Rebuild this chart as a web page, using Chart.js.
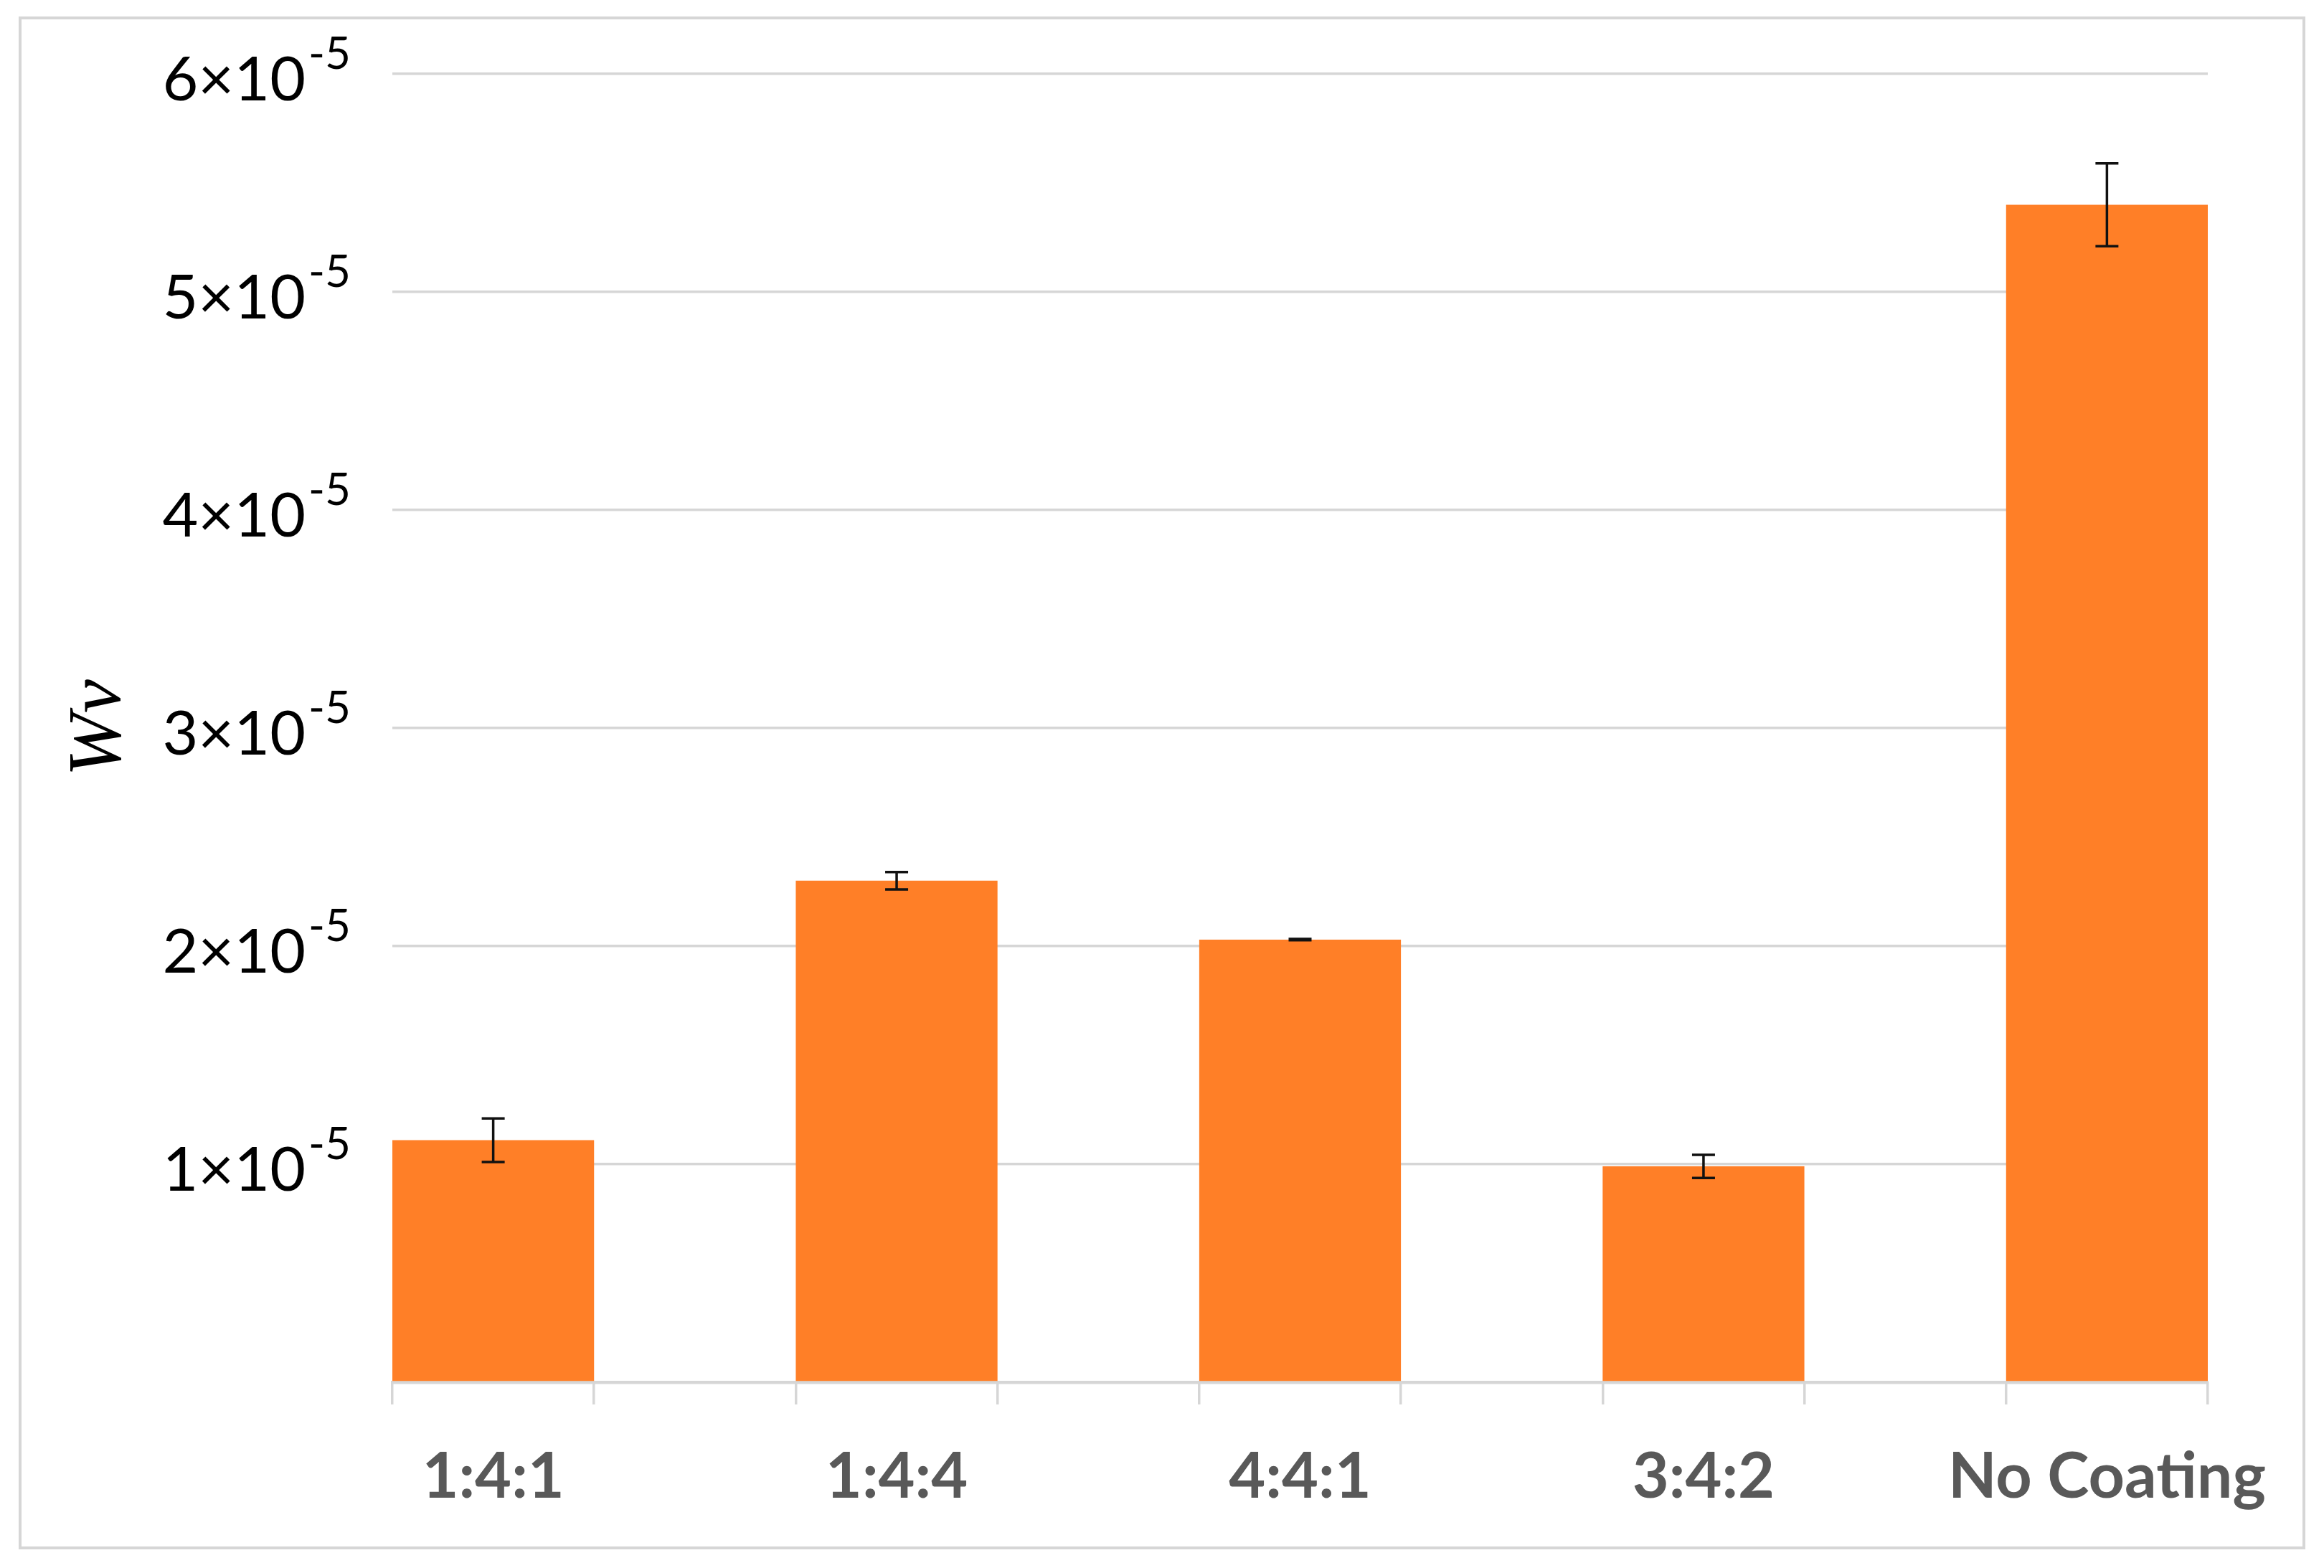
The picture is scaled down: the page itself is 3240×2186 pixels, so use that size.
<!DOCTYPE html>
<html>
<head>
<meta charset="utf-8">
<script src="https://cdn.jsdelivr.net/npm/chart.js@4.4.0/dist/chart.umd.min.js"></script>
<style>
  html, body { margin: 0; padding: 0; background: #ffffff; }
  canvas { display: block; }
</style>
</head>
<body>
<canvas id="chart" width="3240" height="2186" style="width:3240px;height:2186px"></canvas>
<script>
// ---------------- data ----------------
const categories = ['1:4:1', '1:4:4', '4:4:1', '3:4:2', 'No Coating'];
const wvValues   = [1.11e-5, 2.30e-5, 2.03e-5, 0.99e-5, 5.40e-5];
const wvErrors   = [0.10e-5, 0.04e-5, 0.003e-5, 0.053e-5, 0.19e-5];
const yTickValues    = [1e-5, 2e-5, 3e-5, 4e-5, 5e-5, 6e-5];
const yTickMantissas = ['1', '2', '3', '4', '5', '6'];
const yTickExponent  = '-5';
const yAxisTitle = 'Wv';

// ---------------- style ----------------
const BAR_COLOR = '#FF7F27';
const GRID_COLOR = '#D6D6D6';
const LABEL_GRAY = '#595959';
const BAR_FRACTION = 0.5;           // bar width as fraction of category spacing
const HALF = BAR_FRACTION / 2;
const X_MIN = -HALF, X_MAX = categories.length - 1 + HALF;

const errorBarPlugin = {
  id: 'errorBars',
  afterDatasetsDraw(chart) {
    const ctx = chart.ctx;
    const y = chart.scales.y;
    const meta = chart.getDatasetMeta(0);
    ctx.save();
    ctx.strokeStyle = '#111111';
    ctx.lineWidth = 3.5;
    meta.data.forEach((bar, i) => {
      const x = bar.x;
      const top = y.getPixelForValue(wvValues[i] + wvErrors[i]);
      const bot = y.getPixelForValue(wvValues[i] - wvErrors[i]);
      const cap = 16;
      ctx.beginPath();
      ctx.moveTo(x, top); ctx.lineTo(x, bot);
      ctx.moveTo(x - cap, top); ctx.lineTo(x + cap, top);
      ctx.moveTo(x - cap, bot); ctx.lineTo(x + cap, bot);
      ctx.stroke();
    });
    ctx.restore();
  }
};

const frameAndLabelsPlugin = {
  id: 'frameAndLabels',
  beforeDraw(chart) {
    const ctx = chart.ctx;
    ctx.save();
    ctx.fillStyle = '#ffffff';
    ctx.fillRect(0, 0, chart.width, chart.height);
    ctx.strokeStyle = GRID_COLOR;
    ctx.lineWidth = 4;
    ctx.strokeRect(28, 25, 3184, 2133);
    ctx.restore();
  },
  afterDraw(chart) {
    const ctx = chart.ctx;
    const y = chart.scales.y;
    const rightEdge = chart.chartArea.left - 58;
    ctx.save();
    ctx.fillStyle = '#000000';
    ctx.textBaseline = 'alphabetic';
    ctx.textAlign = 'left';
    yTickValues.forEach((v, i) => {
      const py = y.getPixelForValue(v);
      const main = yTickMantissas[i] + '\u00D710';
      ctx.font = '62px Lato';
      const supW = ctx.measureText(yTickExponent).width;
      ctx.font = '86px Lato';
      const mainW = ctx.measureText(main).width;
      const supX = rightEdge - supW;
      const mainX = supX - 4 - mainW;
      ctx.fillText(main, mainX, py + 37);
      ctx.font = '62px Lato';
      ctx.fillText(yTickExponent, supX, py - 7);
    });
    ctx.restore();
  }
};

function draw() {
  new Chart(document.getElementById('chart'), {
    type: 'bar',
    data: {
      datasets: [{
        data: categories.map((c, i) => ({ x: i, y: wvValues[i] })),
        backgroundColor: BAR_COLOR,
        borderWidth: 0,
        categoryPercentage: 1,
        barPercentage: BAR_FRACTION
      }]
    },
    options: {
      responsive: false,
      animation: false,
      devicePixelRatio: 1,
      layout: { padding: { top: 103, right: 162, left: 0, bottom: 0 } },
      plugins: { legend: { display: false }, tooltip: { enabled: false }, title: { display: false } },
      scales: {
        x: {
          type: 'linear',
          position: 'bottom',
          weight: 1,
          min: X_MIN, max: X_MAX,
          offset: false,
          grid: { display: false, offset: false },
          border: { display: true, color: GRID_COLOR, width: 4.5 },
          afterBuildTicks: (s) => { s.ticks = categories.map((c, i) => ({ value: i })); },
          afterFit: (s) => { s.height = 2186 - 1927; },
          ticks: {
            autoSkip: false, maxRotation: 0, minRotation: 0,
            padding: 72,
            color: LABEL_GRAY,
            font: { family: 'Lato', weight: 'bold', size: 88 },
            callback: (v) => categories[v]
          }
        },
        x2: {
          type: 'linear',
          axis: 'x',
          position: 'bottom',
          weight: 0,
          min: X_MIN, max: X_MAX,
          offset: false,
          grid: { display: true, offset: false, drawOnChartArea: false, drawTicks: true, tickLength: 31, color: GRID_COLOR, lineWidth: 3.5 },
          border: { display: false },
          afterBuildTicks: (s) => {
            const t = [];
            categories.forEach((c, i) => { t.push({ value: i - HALF }); t.push({ value: i + HALF }); });
            s.ticks = t;
          },
          afterFit: (s) => { s.height = 0; },
          ticks: { display: false }
        },
        y: {
          type: 'linear',
          min: 0, max: 6e-5,
          afterBuildTicks: (s) => { s.ticks = [0].concat(yTickValues).map(v => ({ value: v })); },
          afterFit: (s) => { s.width = 547; },
          grid: { color: GRID_COLOR, lineWidth: 3.5, drawTicks: false },
          border: { display: false },
          ticks: { display: false },
          title: {
            display: true,
            text: yAxisTitle,
            color: '#000000',
            font: { family: 'Liberation Serif', style: 'italic', size: 106 },
            padding: { top: 76, bottom: 0 }
          }
        }
      }
    },
    plugins: [frameAndLabelsPlugin, errorBarPlugin]
  });
}

const fontsReady = document.fonts ? Promise.all([
  document.fonts.load('bold 88px Lato'),
  document.fonts.load('86px Lato'),
  document.fonts.load('italic 106px "Liberation Serif"')
]) : Promise.resolve();
fontsReady.then(draw, draw);
</script>
</body>
</html>
